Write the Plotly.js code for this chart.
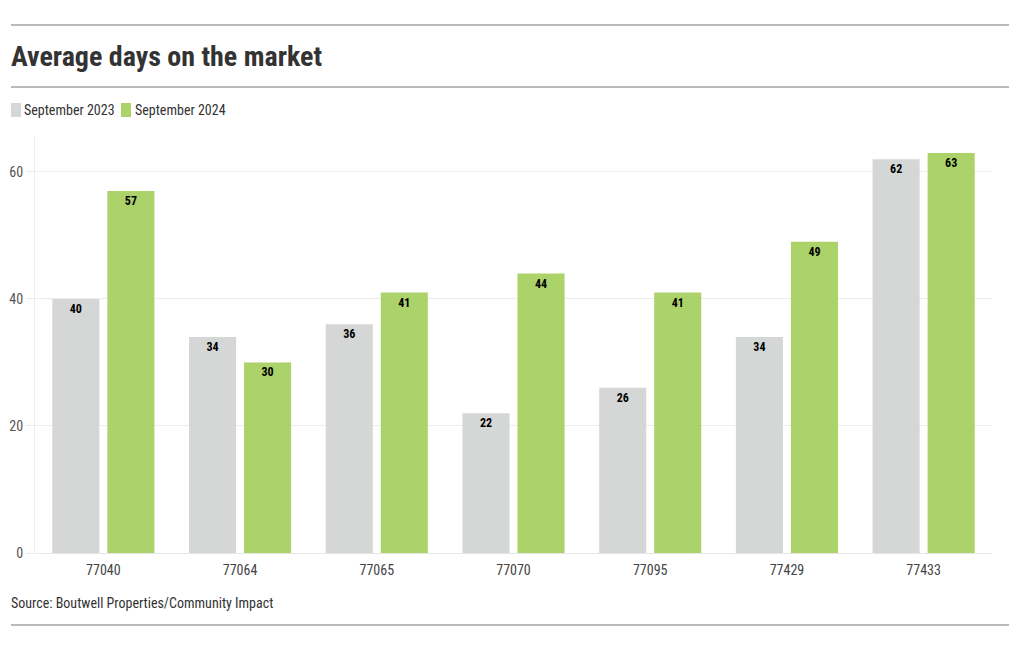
<!DOCTYPE html>
<html>
<head>
<meta charset="utf-8">
<script src="https://cdn.plot.ly/plotly-3.0.1.min.js"></script>
<style>html,body{margin:0;padding:0;background:#fff;}#chart{width:1020px;height:650px;}</style>
</head>
<body>
<div id="chart"></div>
<script>
const categories = ["77040", "77064", "77065", "77070", "77095", "77429", "77433"];
const seriesNames = ["September 2023", "September 2024"];
const sep2023 = [40, 34, 36, 22, 26, 34, 62];
const sep2024 = [57, 30, 41, 44, 41, 49, 63];
const yTicks = [0, 20, 40, 60];
const colors = ["#d5d7d6", "#acd26a"];

const FONT = "'Roboto Condensed', 'Liberation Sans Narrow', 'DejaVu Sans Condensed', Roboto, sans-serif";

const W = 1020, H = 650;
const m = {l: 35, r: 28, t: 137, b: 97};
const pw = W - m.l - m.r, ph = H - m.t - m.b;
const px = x => (x - m.l) / pw;
const py = y => (H - m.b - y) / ph;

function barTrace(name, vals, color) {
  return {
    type: "bar", name: name, x: categories, y: vals,
    marker: {color: color, line: {width: 0}},
    text: vals.map(String), textposition: "inside", insidetextanchor: "end",
    textangle: 0, constraintext: "none",
    insidetextfont: {family: FONT, size: 12, color: "#000", weight: 700},
    hoverinfo: "x+y"
  };
}

const data = [
  barTrace(seriesNames[0], sep2023, colors[0]),
  barTrace(seriesNames[1], sep2024, colors[1])
];

const ruleColor = "#777";
const shapes = [
  {type: "line", xref: "paper", yref: "paper", x0: px(11), x1: px(1009), y0: py(25), y1: py(25), line: {color: ruleColor, width: 1}},
  {type: "line", xref: "paper", yref: "paper", x0: px(11), x1: px(1009), y0: py(87), y1: py(87), line: {color: ruleColor, width: 1}},
  {type: "line", xref: "paper", yref: "paper", x0: px(11), x1: px(1009), y0: py(625), y1: py(625), line: {color: ruleColor, width: 1}},
  {type: "rect", xref: "paper", yref: "paper", x0: px(11), x1: px(21), y0: py(117), y1: py(103), fillcolor: colors[0], line: {width: 0}},
  {type: "rect", xref: "paper", yref: "paper", x0: px(121), x1: px(131), y0: py(117), y1: py(103), fillcolor: colors[1], line: {width: 0}}
];

const annotations = [
  {xref: "paper", yref: "paper", x: px(22), y: py(110), xanchor: "left", yanchor: "middle", showarrow: false,
   text: seriesNames[0], font: {family: FONT, size: 14, color: "#333"}},
  {xref: "paper", yref: "paper", x: px(133), y: py(110), xanchor: "left", yanchor: "middle", showarrow: false,
   text: seriesNames[1], font: {family: FONT, size: 14, color: "#333"}},
  {xref: "paper", yref: "paper", x: px(9), y: py(603), xanchor: "left", yanchor: "middle", showarrow: false,
   text: "Source: Boutwell Properties/Community Impact", font: {family: FONT, size: 14, color: "#333"}}
];

const layout = {
  width: W, height: H,
  margin: m,
  paper_bgcolor: "#fff", plot_bgcolor: "#fff",
  font: {family: FONT, color: "#333"},
  title: {text: "Average days on the market", x: 11 / W, xanchor: "left", xref: "container",
          y: 1 - 56 / H, yanchor: "middle", yref: "container",
          font: {family: FONT, size: 28, color: "#333", weight: 700}},
  showlegend: false,
  barmode: "group", bargap: 0.195, bargroupgap: 0.145,
  xaxis: {type: "category", tickfont: {family: FONT, size: 14, color: "#444"}, ticks: "",
          ticklabelstandoff: 7,
          showline: false, showgrid: false, automargin: false, fixedrange: true},
  yaxis: {range: [0, 65.5], tickvals: yTicks, ticktext: yTicks.map(String),
          tickfont: {family: FONT, size: 14, color: "#555"},
          showgrid: true, gridcolor: "#ececec", gridwidth: 1,
          zeroline: true, zerolinecolor: "#e6e6e6", zerolinewidth: 1,
          showline: true, linecolor: "#ececec", linewidth: 1,
          ticks: "outside", ticklen: 8, tickcolor: "#ececec",
          automargin: false, fixedrange: true},
  shapes: shapes, annotations: annotations
};

Plotly.newPlot("chart", data, layout, {displayModeBar: false, staticPlot: true});
</script>
</body>
</html>
